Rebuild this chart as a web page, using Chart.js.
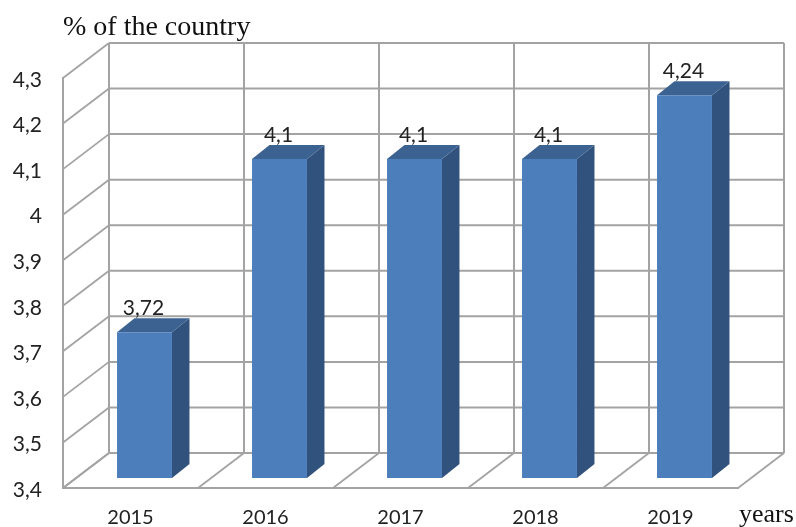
<!DOCTYPE html>
<html>
<head>
<meta charset="utf-8">
<title>% of the country</title>
<style>
  html,body{margin:0;padding:0;background:#fff}
  canvas{display:block}
</style>
<script src="https://cdn.jsdelivr.net/npm/chart.js@4/dist/chart.umd.min.js"></script>
</head>
<body>
<canvas id="shareChart" width="796" height="527"></canvas>
<script>
var years = ['2015','2016','2017','2018','2019']
var shares = [3.72,4.1,4.1,4.1,4.24]
var axisMin = 3.4
var axisMax = 4.3
var axisStep = 0.1

// the fake 3d: how far the back wall and the bars sit behind the front plane
var wallDx = 46
var wallDy = 35
var barDx = 14
var barDy = 10
var sideDx = 17.5
var sideDy = 14

var gridColor = '#a3a3a3'
var labelFont = '21px Lato'
var textColor = '#222'

var formatComma = function(num){
  return String(Number(num.toFixed(2))).replace('.',',')
}
var drawLine = function(ctx,x1,y1,x2,y2){
  ctx.beginPath()
  ctx.moveTo(x1,y1)
  ctx.lineTo(x2,y2)
  ctx.stroke()
}
var drawFace = function(ctx,points,color){
  ctx.fillStyle = color
  ctx.beginPath()
  ctx.moveTo(points[0],points[1])
  for(var i = 2; i < points.length; i += 2) ctx.lineTo(points[i],points[i + 1])
  ctx.closePath()
  ctx.fill()
}

var wallPlugin = {
  id: 'wall3d',
  beforeDraw: function(chart){
    // y labels sit a little lower than their tick in the original
    chart.scales.y.getLabelItems(chart.chartArea).forEach(function(item){
      item.options.translation[1] += 2
    })
  },
  beforeDatasetsDraw: function(chart){
    var ctx = chart.ctx
    var area = chart.chartArea
    var yScale = chart.scales.y
    var step = (area.right - area.left) / years.length
    ctx.save()
    ctx.strokeStyle = gridColor
    yScale.ticks.forEach(function(tick){
      var y = yScale.getPixelForValue(tick.value)
      ctx.lineWidth = 1.8
      drawLine(ctx,area.left,y,area.left + wallDx,y - wallDy)
      ctx.lineWidth = 2
      drawLine(ctx,area.left + wallDx,y - wallDy,area.right + wallDx,y - wallDy)
    })
    for(var i = 0; i <= years.length; i++){
      var x = area.left + step * i
      ctx.lineWidth = 2
      drawLine(ctx,x + wallDx,area.top - wallDy,x + wallDx,area.bottom - wallDy)
      ctx.lineWidth = 1.8
      drawLine(ctx,x,area.bottom,x + wallDx,area.bottom - wallDy)
    }
    ctx.restore()
    // bars get pushed back onto the floor, side and top faces go first
    ctx.save()
    ctx.translate(barDx,-barDy)
    chart.getDatasetMeta(0).data.forEach(function(bar){
      var left = bar.x - bar.width / 2
      var right = bar.x + bar.width / 2
      drawFace(ctx,[right,bar.y,right + sideDx,bar.y - sideDy,right + sideDx,bar.base - sideDy,right,bar.base],'#31527c')
      drawFace(ctx,[left,bar.y,left + sideDx,bar.y - sideDy,right + sideDx,bar.y - sideDy,right,bar.y],'#3c6291')
    })
  },
  afterDatasetsDraw: function(chart){
    var ctx = chart.ctx
    ctx.restore()
    ctx.save()
    ctx.font = labelFont
    ctx.fillStyle = textColor
    ctx.textAlign = 'center'
    ctx.textBaseline = 'middle'
    chart.getDatasetMeta(0).data.forEach(function(bar,i){
      ctx.fillText(formatComma(shares[i]),bar.x + barDx - 1,bar.y - barDy - 24)
    })
    ctx.font = '28px "Liberation Serif"'
    ctx.fillStyle = '#111'
    ctx.textAlign = 'left'
    ctx.textBaseline = 'alphabetic'
    ctx.fillText('% of the country',63,35)
    ctx.font = '26px "Liberation Serif"'
    ctx.fillText('years',739,522)
    ctx.restore()
  }
}

new Chart(document.getElementById('shareChart'),{
  type: 'bar',
  data: {
    labels: years,
    datasets: [
      {
        data: shares,
        label: '% of the country',
        backgroundColor: '#4d7ebc',
        borderWidth: 0,
        categoryPercentage: 1,
        barPercentage: 0.407,
        base: axisMin,
        clip: false
      }
    ]
  },
  options: {
    responsive: false,
    animation: false,
    layout: {padding: {top: 78,right: 58,left: 0,bottom: 0}},
    plugins: {
      legend: {display: false},
      title: {display: false},
      tooltip: {enabled: false}
    },
    scales: {
      x: {
        grid: {display: false,drawTicks: false},
        border: {display: true,color: gridColor,width: 2},
        ticks: {color: textColor,font: {family: 'Lato',size: 20},padding: 18,maxRotation: 0},
        afterFit: function(scale){ scale.height = 39 }
      },
      y: {
        min: axisMin,
        max: axisMax,
        grid: {display: false,drawTicks: false},
        border: {display: true,color: gridColor,width: 2},
        ticks: {
          stepSize: axisStep,
          color: textColor,
          font: {family: 'Lato',size: 21},
          padding: 21,
          callback: function(value){ return formatComma(value) }
        },
        afterFit: function(scale){ scale.width = 63 }
      }
    }
  },
  plugins: [wallPlugin]
})
</script>
</body>
</html>
